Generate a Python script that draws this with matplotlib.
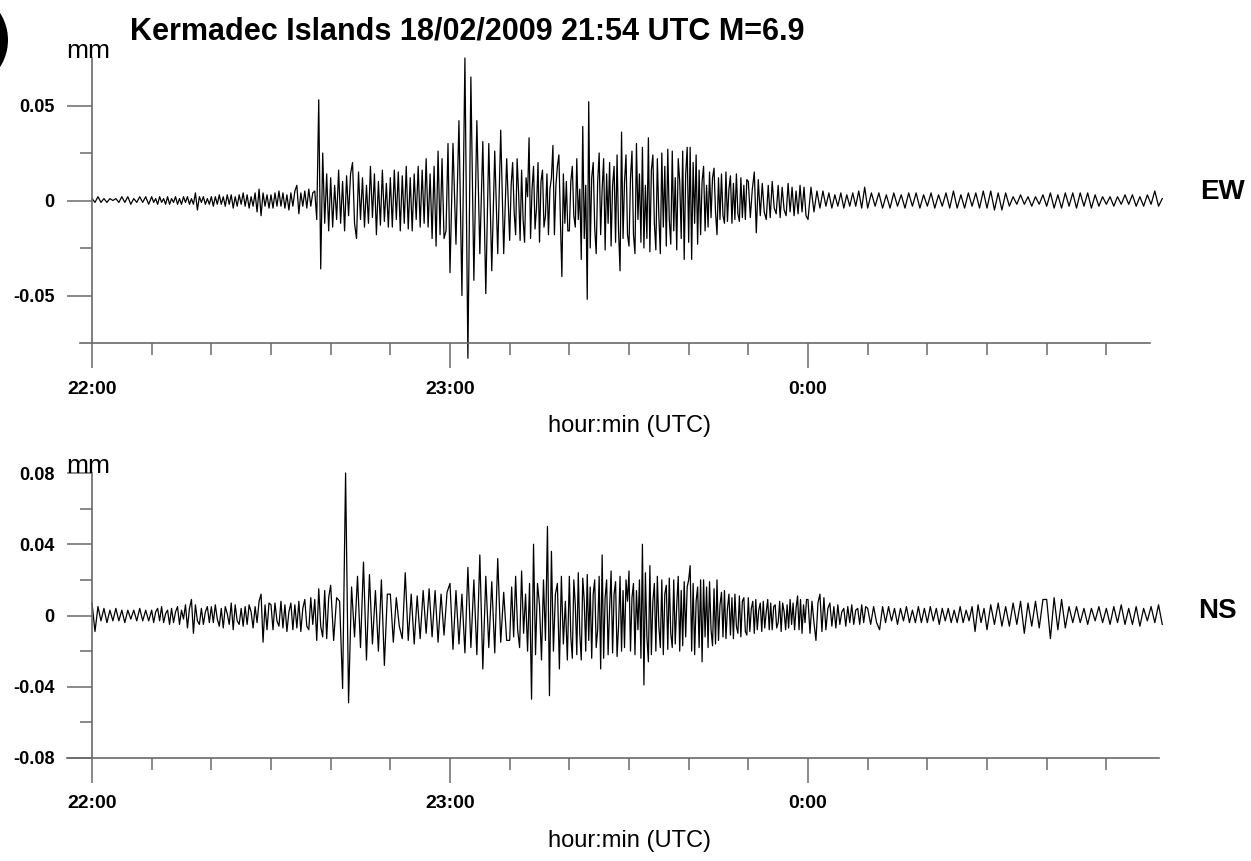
import numpy as np
import matplotlib
matplotlib.use("Agg")
import matplotlib.pyplot as plt
from matplotlib.patches import Ellipse

plt.rcParams["font.family"] = ["Liberation Sans", "DejaVu Sans"]

# ---------------------------------------------------------------------------
# Data: ground displacement in micrometres, starting at 22:00 UTC.
# Each row spans ten minutes; its samples are evenly spaced inside the row.
# ---------------------------------------------------------------------------
ROW_MINUTES = 10

ew_rows = [
    [1, -1, 2, -1, 1, -1, 1, 0, 1, -1, 2, -1, 2, -2, 1, -1, 2, -1, 2, -2],
    [2, -1, 1, -2, 2, -1, 1, -2, 2, -2, 1, -1, 2, -2, 1, -2, 2, -1, 2, -2,
     1, -2, 4, -5, 2, -1, 2, -2, 1, -2],
    [2, -3, 2, -2, 3, -2, 2, -3, 3, -2, 3, -4, 2, -3, 3, -2, 4, -3, 3, -4,
     2, -3, 4, -6, 6, -8, 4, -3, 3, -4],
    [3, -4, 4, -3, 5, -3, 4, -4, 3, -5, 4, -3, 5, 8, -7, 4, -3, 5, -4, 6,
     -3, 4, 5, -10, 53, -36, 25, -12, 14, -16],
    [12, -14, 8, -10, 16, -12, 10, -16, 13, -8, 14, 20, -12, -20, 15, -10, 12, -14, 8, -12,
     18, -9, 14, -18, 10, -13, 16, -11, 9, -14],
    [12, -14, 16, -10, 15, -16, 13, -12, 18, -15, 12, -16, 14, -10, 18, -14, 16, -12, 22, -14,
     14, -20, 18, -24, 26, -18, 22, -20, -16, 30],
    [-38, 30, -23, 42, -50, 75, -83, 65, -42, 42, -28, 31, -49, 30, -37, 26, -28, 37, -28, 22],
    [-21, 8, 20, -6, -18, 22, 4, -21, 16, -10, -22, 12, 2, 33, -20, 6, 18, -15, -4, 20,
     -22, 10, 16, -14, -8, 14, -18, 6, 12, 29, -18, 8, 18, 24, -10, -40, 14, -12, 10, -16],
    [-16, 10, 18, -8, -14, 22, -10, 6, -31, 39, -20, 8, -52, 52, -25, 12, 20, -14, -28, 10,
     25, -18, 6, 22, -26, 14, -12, 20, -24, 8, 18, -22, 24, -16, -37, 36, -20, 10, 24, -18],
    [-24, 12, 26, -18, -28, 30, -10, 14, -22, 28, -25, 8, -20, 33, -27, 16, 24, -12, -26, 22,
     -8, -28, 25, -14, 18, -24, 27, -10, -23, 26, -16, 12, -26, 22, 10, -20, 26, -31, 14, 28],
    [-22, 28, -31, 20, -12, 24, -23, 16, -18, 10, 18, -16, 8, -14, 15, -9, 12, 17, -6, -18,
     12, -10, 14, -8, -12, 15, -11, 6, 13, -12, 9, -10, 14, -7, -11, 12, -9, 8, -10, 11],
    [10, -9, 6, 15, -17, 11, -8, 9, -6, -10, 8, -9, 10, -4, -7, 8, -9, 7, -5, -8,
     9, -6, 7, -8, 5, -7, 8, -6, 7, -8],
    [-10, 7, -6, 5, -4, 5, -3, 4, -4, 3, -3, 4, -4, 3, -3, 4, -3, 5, -4, 7],
    [-4, 4, -3, 4, -4, 3, -4, 4, -3, 3, -4, 4, -3, 4, -4, 3],
    [-3, 4, -4, 3, -3, 4, -4, 5, -4, 3, -4, 4, -3, 4, -4, 5],
    [-4, 5, -5, 4, -5, 4, -3, 2, -2, 3, -2, 2, -3, 2, -2, 3],
    [-3, 4, -4, 3, -4, 4, -3, 4, -4, 4, -3, 4, -4, 3, -3, 2],
    [-2, 2, -3, 2, -2, 3, -2, 3, -3, 2, -3, 3, -2, 5, -3, 1],
]

ns_rows = [
    [7, -9, 5, -3, 4, -4, 3, -3, 4, -3, 3, -4, 3, -2, 3, -3, 4, -3, 3, -3],
    [3, -4, 2, 4, -3, 5, -4, 1, 3, -5, 4, -4, 2, 5, -5, 3, -2, 6, -7, 4,
     9, -10, 6, -3, -5, 4, -5, 2, 5, -4],
    [5, -4, 6, -2, -6, 4, -7, 5, 1, -5, 7, -8, 6, -3, -5, 4, -6, 5, -5, 6,
     2, -7, 5, -4, 8, 12, -15, 6, -8, 7],
    [6, -8, 7, -3, -6, 8, -7, 6, -9, 2, 7, -8, 6, -7, 8, -9, 4, 9, -6, -8,
     10, -5, 9, -14, 15, -6, -12, 14, -13, 10],
    [17, -14, 10, 8, -41, 80, -49, 16, -12, 22, -18, 30, -25, 23, -16, 14, -20, 20, -28, 12],
    [12, -15, 10, -6, -13, 24, -14, 12, -16, 11, -13, 14, -10, 15, -12, 14, -15, 12, -11, 13],
    [18, -19, 14, -16, 12, -21, 27, -18, 20, -22, 34, -30, 22, -18, 19, -21, 32, -15, 13, -14],
    [-14, 16, -12, 22, -8, -18, 25, -10, 12, -20, 18, -47, 40, -22, 18, 6, -25, 20, -14, 50,
     -45, 36, -20, 12, 18, -30, 22, -16, 8, -25],
    [22, -12, -24, 20, 6, -22, 24, -10, -25, 21, 8, -20, 23, -14, 16, -24, 12, 20, -18, -8,
     22, -30, 34, -24, 10, 20, -22, 4, 25, -21, 12, 19, -23, -6, 22, -20, 14, -18, 20, 8],
    [25, -20, 10, 18, -22, 14, -8, 20, -24, 40, -39, 24, -12, -26, 28, -22, 8, 18, -20, 22,
     -6, -18, 20, -22, 12, 17, -19, 21, -10, -18, 20, -16, 6, 22, -20, 14, -17, 19, -12, 16],
    [20, 28, -20, 18, -22, 8, 16, -18, 20, -26, 20, -12, 16, -18, 19, -8, -17, 15, -16, 20,
     -14, 6, 13, -12, 14, -13, 4, 12, -11, 10, -13, 12, -6, -10, 11, -12, 8, 10, -9, -11],
    [10, -9, 4, 8, -10, 9, -8, 3, 7, -9, 8, -7, 2, 9, -8, 7, -8, 5, 6, -7,
     -4, 8, -9, 7, 2, -8, 6, -7, 9, -5, 7, -8, 4, 11, -8, 9, -10, 6, -4, 9],
    [9, -10, 8, -4, -14, 7, 12, -9, 10, -8, 4, 7, -6, 5, -7, 6, -5, 2, 4, -6,
     5, -4, 6, -5, 3, 4, -5, 6, -4, 5],
    [4, -5, 5, -4, -8, 5, -4, 5, -3, 4, -5, 4, -3, 5, -4, 3, -4, 5, -4, 4],
    [-4, 5, -3, 4, -5, 4, -3, 4, -4, 3, -4, 5, -4, 3, -3, 5, -9, 6, -4, 4],
    [-8, 6, -5, 7, -6, 5, -6, 7, -5, 8, -10, 7, -6, 8, -7, 9],
    [9, -13, 10, -8, 9, -7, 5, -4, 5, -4, 4, -5, 4, -3, 5, -4],
    [4, -5, 5, -4, 6, -5, 4, -5, 5, -6, 4, -3, 5, -4, 6, -5],
]

title = "Kermadec Islands 18/02/2009 21:54 UTC M=6.9"
hour_ticks = [0, 60, 120]
hour_labels = ["22:00", "23:00", "0:00"]
minute_ticks = [m for m in range(10, 180, 10) if m % 60 != 0]

ew_yticks = [-0.05, 0.0, 0.05]
ew_ylabels = ["-0.05", "0", "0.05"]
ew_yminor = [-0.025, 0.025]
ns_yticks = [-0.08, -0.04, 0.0, 0.04, 0.08]
ns_ylabels = ["-0.08", "-0.04", "0", "0.04", "0.08"]
ns_yminor = [-0.06, -0.02, 0.02, 0.06]

# ---------------------------------------------------------------------------
W, H = 1251, 861
fig = plt.figure(figsize=(W / 100, H / 100), dpi=100)
AX_COLOR = "#6a6a6a"
PX_PER_MIN = 358 / 60.0
ORIGIN_PX = 92


def add_panel(left, top, right, bottom, ylim):
    ax = fig.add_axes([left / W, 1 - bottom / H, (right - left) / W, (bottom - top) / H])
    ax.set_xlim((left - ORIGIN_PX) / PX_PER_MIN, (right - ORIGIN_PX) / PX_PER_MIN)
    ax.set_ylim(*ylim)
    ax.set_facecolor("none")
    for s in ("top", "right"):
        ax.spines[s].set_visible(False)
    ax.spines["left"].set_position(("data", 0))
    for s in ("left", "bottom"):
        ax.spines[s].set_color(AX_COLOR)
        ax.spines[s].set_linewidth(1.2)
    ax.tick_params(which="major", length=18, width=1.1, color=AX_COLOR, direction="out")
    ax.tick_params(which="minor", length=8.6, width=1.1, color=AX_COLOR, direction="out")
    ax.tick_params(axis="x", which="major", pad=9, labelsize=14)
    ax.tick_params(axis="y", which="major", pad=9, labelsize=13)
    ax.set_xticks(hour_ticks)
    ax.set_xticklabels(hour_labels, fontweight="bold")
    ax.set_xticks(minute_ticks, minor=True)
    return ax


def draw_trace(ax, rows):
    times, values = [], []
    for k, row in enumerate(rows):
        n = len(row)
        times.append(k * ROW_MINUTES + np.arange(n) * ROW_MINUTES / n)
        values.append(np.asarray(row, dtype=float) * 1e-3)
    ax.plot(np.concatenate(times), np.concatenate(values), color="black",
            lw=0.9, clip_on=False)


ax_ew = add_panel(80, 58, 1150, 343, (-0.075, 0.075))
ax_ew.set_yticks(ew_yticks)
ax_ew.set_yticklabels(ew_ylabels, fontweight="bold")
ax_ew.set_yticks(ew_yminor, minor=True)
draw_trace(ax_ew, ew_rows)

ax_ns = add_panel(67, 473, 1159, 758, (-0.08, 0.08))
ax_ns.set_yticks(ns_yticks)
ax_ns.set_yticklabels(ns_ylabels, fontweight="bold")
ax_ns.set_yticks(ns_yminor, minor=True)
draw_trace(ax_ns, ns_rows)

for ax in (ax_ew, ax_ns):
    ax.annotate("mm", xy=(0, ax.get_ylim()[1]), xytext=(-3, 0),
                textcoords="offset points", ha="center", va="baseline",
                fontsize=19, annotation_clip=False)


def fig_text(xpx, ypx, s, **kw):
    fig.text(xpx / W, 1 - ypx / H, s, **kw)


fig_text(130, 40, title, fontsize=22, fontweight="bold", ha="left", va="baseline")
fig_text(630, 426, "hour:min (UTC)", fontsize=17, ha="center", va="center")
fig_text(630, 841, "hour:min (UTC)", fontsize=17, ha="center", va="center")
fig_text(1200, 199, "EW", fontsize=20, fontweight="bold", ha="left", va="baseline")
fig_text(1198, 618, "NS", fontsize=20, fontweight="bold", ha="left", va="baseline")

# dark panel badge at the top-left corner
fig.add_artist(Ellipse((-42 / W, 1 - 40 / H), 100 / W, 100 / H,
                       transform=fig.transFigure, facecolor="black",
                       edgecolor="none", clip_on=False))

fig.savefig("out.png", dpi=100, facecolor="white")
